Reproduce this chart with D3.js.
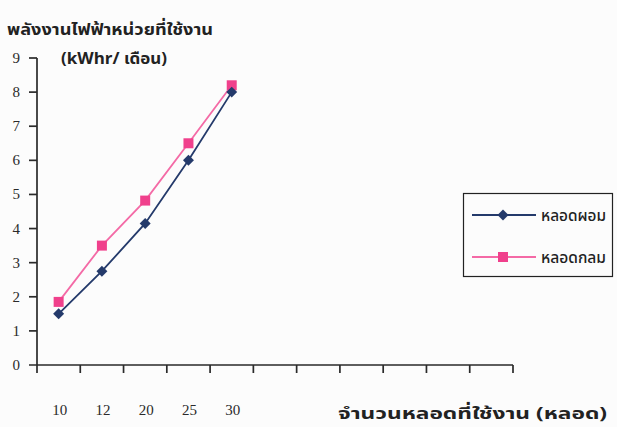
<!DOCTYPE html>
<html>
<head>
<meta charset="utf-8">
<script src="https://cdn.jsdelivr.net/npm/d3@7"></script>
<style>
  html, body { margin: 0; padding: 0; background: #fcfcfc; }
  svg { display: block; }
  .thai { font-family: "Noto Sans Thai", "Tahoma", "Noto Sans", "DejaVu Sans", sans-serif; fill: #222; }
  .num { font-family: "Liberation Serif", "Times New Roman", serif; font-size: 15px; fill: #2a2a2a; }
</style>
</head>
<body>
<svg id="chart" width="617" height="427"></svg>
<script>
// Lamp counts on the category axis (11 slots, first five used)
const categories = ["10", "12", "20", "25", "30"];
const slotCount = 11;
// Monthly energy use (kWhr) for each lamp type
const seriesNames = ["หลอดผอม", "หลอดกลม"];
const thinLamp = [1.5, 2.75, 4.15, 6.0, 8.0];
const roundLamp = [1.85, 3.5, 4.82, 6.5, 8.2];
const yTicks = [0, 1, 2, 3, 4, 5, 6, 7, 8, 9];
const yTitle = "พลังงานไฟฟ้าหน่วยที่ใช้งาน";
const yUnit = "(kWhr/ เดือน)";
const xTitle = "จำนวนหลอดที่ใช้งาน (หลอด)";

const colors = { thin: "#243a6b", round: "#f0408c", roundLine: "#f46aa6", axis: "#2a2a2a" };

const svg = d3.select("#chart");

const x = d3.scaleBand().domain(d3.range(slotCount)).range([37, 513]).padding(0);
const y = d3.scaleLinear().domain([0, 9]).range([365, 58]);

// Axes
const axis = svg.append("g").attr("stroke", colors.axis).attr("stroke-width", 1.7);
axis.append("line").attr("x1", x.range()[0]).attr("x2", x.range()[0])
  .attr("y1", y(9)).attr("y2", y(0) + 8);
axis.append("line").attr("x1", x.range()[0] - 8).attr("x2", x.range()[1])
  .attr("y1", y(0)).attr("y2", y(0));
// category boundary ticks
const boundaries = d3.range(slotCount + 1).map(i => x.range()[0] + i * x.step());
axis.selectAll(".xt").data(boundaries.slice(1)).join("line")
  .attr("x1", d => d).attr("x2", d => d)
  .attr("y1", y(0)).attr("y2", y(0) + 8);
axis.selectAll(".yt").data(yTicks.slice(1)).join("line")
  .attr("x1", x.range()[0] - 8).attr("x2", x.range()[0])
  .attr("y1", d => y(d)).attr("y2", d => y(d));

// Y tick labels
svg.selectAll(".ylab").data(yTicks).join("text")
  .attr("class", "num")
  .attr("x", 20).attr("y", d => y(d) + 5)
  .attr("text-anchor", "end")
  .text(d => d);

// X tick labels, set well below the axis
svg.selectAll(".xlab").data(categories).join("text")
  .attr("class", "num")
  .attr("x", (d, i) => x(i) + x.bandwidth() / 2 + 1)
  .attr("y", 415)
  .attr("text-anchor", "middle")
  .text(d => d);

// Titles
svg.append("text").attr("class", "thai").attr("x", 7).attr("y", 35)
  .attr("font-size", 16.5).attr("font-weight", "bold")
  .attr("textLength", 206).attr("lengthAdjust", "spacingAndGlyphs").text(yTitle);
svg.append("text").attr("class", "thai").attr("x", 61).attr("y", 64)
  .attr("font-size", 15.5).attr("font-weight", "bold")
  .attr("textLength", 106).attr("lengthAdjust", "spacingAndGlyphs").text(yUnit);
svg.append("text").attr("class", "thai").attr("x", 338).attr("y", 419)
  .attr("font-size", 16.5).attr("font-weight", "bold")
  .attr("textLength", 269).attr("lengthAdjust", "spacingAndGlyphs").text(xTitle);

// Series
const cx = i => x(i) + x.bandwidth() / 2;
const line = d3.line().x((d, i) => cx(i)).y(d => y(d));
const diamond = d3.symbol().type(d3.symbolSquare).size(60);
const square = d3.symbol().type(d3.symbolSquare).size(100);

svg.append("path").datum(roundLamp).attr("d", line)
  .attr("fill", "none").attr("stroke", colors.roundLine).attr("stroke-width", 1.8);
svg.append("path").datum(thinLamp).attr("d", line)
  .attr("fill", "none").attr("stroke", colors.thin).attr("stroke-width", 1.8);

svg.selectAll(".sq").data(roundLamp).join("path")
  .attr("d", square)
  .attr("transform", (d, i) => `translate(${cx(i)},${y(d)})`)
  .attr("fill", colors.round);
svg.selectAll(".dm").data(thinLamp).join("path")
  .attr("d", diamond)
  .attr("transform", (d, i) => `translate(${cx(i)},${y(d)}) rotate(45)`)
  .attr("fill", colors.thin);

// Legend
const legend = svg.append("g");
legend.append("rect").attr("x", 463.5).attr("y", 193.5).attr("width", 149).attr("height", 83)
  .attr("fill", "#fcfcfc").attr("stroke", "#222").attr("stroke-width", 1.2);
const items = [
  { name: seriesNames[0], color: colors.thin, lineColor: colors.thin, sym: diamond, rot: 45, yy: 215 },
  { name: seriesNames[1], color: colors.round, lineColor: colors.roundLine, sym: square, rot: 0, yy: 257 }
];
items.forEach(it => {
  legend.append("line").attr("x1", 472).attr("x2", 536).attr("y1", it.yy).attr("y2", it.yy)
    .attr("stroke", it.lineColor).attr("stroke-width", 1.8);
  legend.append("path").attr("d", it.sym)
    .attr("transform", `translate(503,${it.yy}) rotate(${it.rot})`).attr("fill", it.color);
  legend.append("text").attr("class", "thai").attr("x", 541).attr("y", it.yy + 6)
    .attr("font-size", 16).attr("font-weight", 500)
    .attr("textLength", 65).attr("lengthAdjust", "spacingAndGlyphs").text(it.name);
});
</script>
</body>
</html>
